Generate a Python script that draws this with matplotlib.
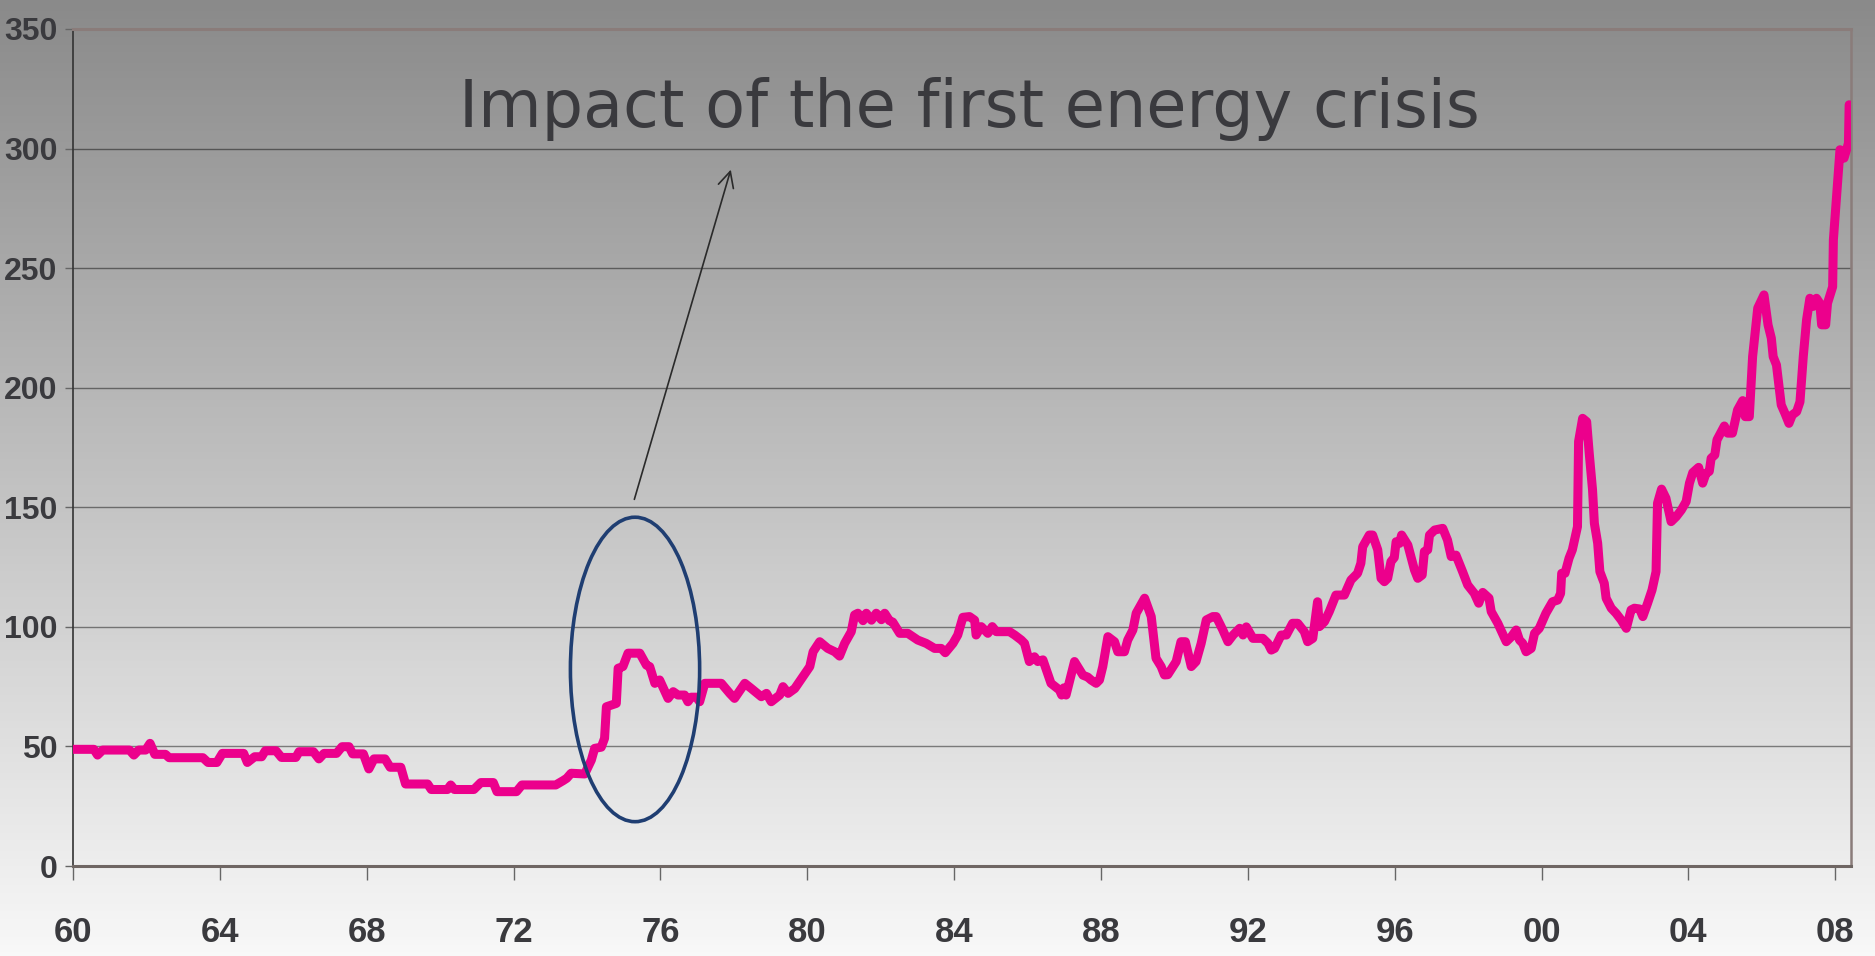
import matplotlib
matplotlib.use('Agg')
import matplotlib.pyplot as plt
from matplotlib.patches import Ellipse
import numpy as np

# monthly-ish readings of the index
years = [1960.00, 1960.57, 1960.67, 1960.81, 1961.54, 1961.66, 1961.79, 1961.98, 1962.10, 1962.23,
         1962.52, 1962.62, 1963.54, 1963.68, 1963.92, 1964.07, 1964.65, 1964.75, 1964.95, 1965.14,
         1965.24, 1965.53, 1965.68, 1966.07, 1966.16, 1966.55, 1966.70, 1966.84, 1967.18, 1967.33,
         1967.52, 1967.62, 1967.91, 1968.06, 1968.20, 1968.50, 1968.64, 1968.93, 1969.06, 1969.66,
         1969.76, 1970.20, 1970.29, 1970.39, 1970.92, 1971.11, 1971.45, 1971.55, 1972.08, 1972.23,
         1973.15, 1973.35, 1973.45, 1973.57, 1973.94, 1974.12, 1974.21, 1974.39, 1974.48, 1974.53,
         1974.80, 1974.85, 1974.98, 1975.12, 1975.44, 1975.62, 1975.71, 1975.85, 1975.98, 1976.21,
         1976.35, 1976.48, 1976.66, 1976.75, 1976.84, 1976.98, 1977.07, 1977.21, 1977.66, 1977.89,
         1978.02, 1978.30, 1978.48, 1978.75, 1978.89, 1979.02, 1979.25, 1979.34, 1979.48, 1979.66,
         1979.79, 1980.07, 1980.16, 1980.34, 1980.56, 1980.75, 1980.88, 1981.02, 1981.20, 1981.29,
         1981.38, 1981.52, 1981.61, 1981.75, 1981.88, 1982.02, 1982.11, 1982.24, 1982.33, 1982.52,
         1982.74, 1983.01, 1983.24, 1983.47, 1983.65, 1983.76, 1983.97, 1984.10, 1984.24, 1984.42,
         1984.56, 1984.60, 1984.74, 1984.92, 1985.04, 1985.15, 1985.51, 1985.65, 1985.83, 1985.92,
         1986.05, 1986.19, 1986.28, 1986.42, 1986.64, 1986.87, 1986.93, 1986.99, 1987.05, 1987.28,
         1987.51, 1987.64, 1987.73, 1987.87, 1987.96, 1988.05, 1988.19, 1988.37, 1988.46, 1988.64,
         1988.73, 1988.87, 1988.96, 1989.19, 1989.37, 1989.50, 1989.64, 1989.73, 1989.82, 1990.05,
         1990.18, 1990.30, 1990.46, 1990.59, 1990.73, 1990.87, 1991.05, 1991.14, 1991.32, 1991.46,
         1991.60, 1991.78, 1991.87, 1991.96, 1992.14, 1992.41, 1992.55, 1992.64, 1992.73, 1992.91,
         1993.05, 1993.22, 1993.36, 1993.54, 1993.63, 1993.77, 1993.90, 1993.95, 1994.09, 1994.22,
         1994.40, 1994.63, 1994.81, 1994.99, 1995.08, 1995.13, 1995.31, 1995.40, 1995.54, 1995.63,
         1995.72, 1995.81, 1995.90, 1995.99, 1996.04, 1996.13, 1996.19, 1996.36, 1996.54, 1996.63,
         1996.75, 1996.81, 1996.90, 1996.95, 1997.09, 1997.31, 1997.44, 1997.54, 1997.67, 1997.85,
         1997.99, 1998.17, 1998.29, 1998.40, 1998.57, 1998.63, 1998.81, 1999.04, 1999.18, 1999.31,
         1999.40, 1999.49, 1999.58, 1999.72, 1999.81, 1999.94, 2000.12, 2000.30, 2000.44, 2000.52,
         2000.55, 2000.64, 2000.75, 2000.84, 2000.98, 2001.01, 2001.12, 2001.23, 2001.30, 2001.39,
         2001.44, 2001.53, 2001.59, 2001.71, 2001.76, 2001.90, 2002.03, 2002.17, 2002.31, 2002.44,
         2002.53, 2002.67, 2002.76, 2002.89, 2003.01, 2003.12, 2003.16, 2003.27, 2003.39, 2003.53,
         2003.67, 2003.81, 2003.94, 2004.03, 2004.12, 2004.28, 2004.39, 2004.48, 2004.57, 2004.62,
         2004.72, 2004.78, 2004.98, 2005.07, 2005.20, 2005.34, 2005.48, 2005.55, 2005.66, 2005.75,
         2005.89, 2006.06, 2006.17, 2006.26, 2006.31, 2006.40, 2006.53, 2006.63, 2006.74, 2006.83,
         2006.95, 2007.04, 2007.13, 2007.22, 2007.31, 2007.40, 2007.49, 2007.58, 2007.63, 2007.74,
         2007.79, 2007.93, 2007.95, 2008.13, 2008.24, 2008.36, 2008.38]
values = [48.8, 48.8, 46.4, 48.5, 48.5, 46.4, 48.5, 48.5, 51.3, 46.7,
          46.7, 45.3, 45.3, 43.3, 43.3, 47.1, 47.1, 43.3, 45.7, 45.7,
          48.2, 48.2, 45.4, 45.4, 47.8, 47.8, 44.8, 47.1, 47.1, 49.9,
          49.9, 46.9, 46.9, 40.6, 44.8, 44.8, 41.3, 41.3, 34.3, 34.3,
          32.0, 32.0, 33.9, 32.0, 32.0, 34.9, 34.9, 31.1, 31.1, 33.9,
          33.9, 35.7, 36.7, 38.8, 38.5, 44.3, 49.2, 49.7, 53.4, 66.6,
          68.0, 82.7, 83.4, 89.0, 89.0, 84.0, 83.4, 76.4, 77.8, 70.1,
          72.9, 71.5, 71.5, 68.7, 70.6, 70.6, 68.7, 76.4, 76.4, 72.2,
          70.1, 76.4, 74.2, 70.8, 72.2, 68.7, 71.5, 75.0, 72.2, 74.2,
          77.1, 83.4, 89.6, 93.8, 91.0, 89.6, 87.8, 93.1, 98.0, 105.0,
          105.7, 102.6, 105.7, 102.8, 105.7, 103.0, 105.7, 102.6, 102.0, 97.3,
          97.3, 94.5, 93.1, 91.0, 91.0, 89.2, 93.1, 96.6, 104.0, 104.3,
          102.8, 96.6, 100.1, 97.3, 100.1, 98.0, 98.0, 96.6, 94.5, 93.1,
          85.5, 87.5, 85.5, 86.2, 76.4, 73.6, 71.5, 74.5, 71.5, 85.5,
          79.8, 79.0, 77.8, 76.4, 77.8, 83.4, 95.9, 93.8, 89.6, 89.6,
          94.5, 98.7, 105.7, 112.0, 104.3, 86.9, 83.4, 79.9, 80.0, 85.5,
          93.8, 93.8, 83.4, 85.5, 93.1, 102.9, 104.3, 104.3, 98.7, 93.8,
          96.6, 99.4, 96.6, 100.0, 95.2, 95.2, 93.1, 90.3, 91.0, 96.6,
          96.6, 101.5, 101.5, 98.0, 93.8, 95.2, 110.5, 100.1, 102.2, 106.4,
          113.3, 113.3, 119.6, 122.4, 126.6, 133.5, 138.4, 138.4, 132.2, 120.3,
          118.9, 120.3, 127.3, 129.0, 135.6, 134.9, 138.4, 134.2, 123.8, 120.3,
          121.7, 131.5, 132.2, 138.4, 140.5, 141.2, 136.3, 129.4, 130.0, 123.1,
          117.5, 114.0, 109.9, 114.4, 112.0, 106.4, 101.5, 93.8, 95.9, 98.7,
          94.5, 93.1, 89.6, 91.0, 97.3, 99.4, 105.7, 110.5, 111.2, 114.0,
          122.4, 122.4, 128.7, 132.2, 141.9, 177.5, 187.2, 185.8, 172.6, 157.3,
          143.3, 135.0, 123.1, 118.2, 112.0, 107.8, 105.7, 102.9, 99.4, 107.1,
          107.8, 107.5, 104.3, 109.9, 115.4, 123.1, 151.7, 157.6, 153.8, 144.0,
          146.1, 148.9, 152.4, 160.1, 164.5, 166.7, 160.1, 164.2, 165.0, 170.5,
          171.9, 178.2, 184.0, 181.0, 181.0, 190.7, 194.6, 187.9, 187.9, 213.0,
          233.3, 238.8, 226.3, 220.7, 213.0, 209.5, 192.8, 189.3, 185.1, 188.6,
          190.0, 194.1, 213.0, 228.4, 237.4, 234.0, 237.4, 235.3, 226.3, 226.3,
          235.3, 242.2, 261.8, 299.5, 296.0, 302.2, 318.3]

tick_years = [1960, 1964, 1968, 1972, 1976, 1980, 1984, 1988, 1992, 1996, 2000, 2004, 2008]
tick_labels = ["60", "64", "68", "72", "76", "80", "84", "88", "92", "96", "00", "04", "08"]
y_ticks = [0, 50, 100, 150, 200, 250, 300, 350]

title = "Impact of the first energy crisis"
# circled period and arrow (data units)
crisis_center = (1975.31, 82.2)
crisis_size = (3.52, 127.3)
arrow_tail = (1975.27, 152.2)
arrow_head = (1977.94, 292.3)

TICK_FONT = ['Liberation Sans', 'DejaVu Sans']
TXT_COLOR = '#3a3a3e'


def draw_background(fig):
    bg = fig.add_axes([0, 0, 1, 1], zorder=-10)
    grad = np.linspace(138, 248, 256).reshape(-1, 1) / 255.0
    img = np.dstack([grad, grad, grad])
    bg.imshow(img, aspect='auto', extent=[0, 1, 0, 1], origin='upper')
    bg.set_axis_off()


def main():
    fig = plt.figure(figsize=(18.75, 9.56), dpi=100)
    draw_background(fig)
    ax = fig.add_axes([0.0389, 0.0941, 0.9483, 0.8756])
    ax.set_facecolor('none')

    for v in y_ticks[1:-1]:
        ax.axhline(v, color='black', alpha=0.45, lw=1.0, zorder=1)

    ax.plot(years, values, color='#ec008c', lw=6.5, solid_joinstyle='round',
            solid_capstyle='round', zorder=3)

    ell = Ellipse(crisis_center, crisis_size[0], crisis_size[1], facecolor='none',
                  edgecolor='#1f3e72', lw=2.6, zorder=4)
    ax.add_patch(ell)
    ax.annotate('', xy=arrow_head, xytext=arrow_tail,
                arrowprops=dict(arrowstyle='->', color='#2a2a2a', lw=1.2, mutation_scale=28),
                zorder=5)

    ax.set_xlim(1960, 2008.43)
    ax.set_ylim(0, 350)
    ax.set_xticks(tick_years)
    ax.set_xticklabels(tick_labels)
    ax.set_yticks(y_ticks)
    ax.set_yticklabels([str(v) for v in y_ticks])
    for lab in ax.get_xticklabels():
        lab.set_family(TICK_FONT)
        lab.set_fontweight('bold')
        lab.set_fontsize(25)
        lab.set_color(TXT_COLOR)
    for lab in ax.get_yticklabels():
        lab.set_family(TICK_FONT)
        lab.set_fontweight('bold')
        lab.set_fontsize(23)
        lab.set_color(TXT_COLOR)
    ax.tick_params(axis='x', length=10, width=1.0, color='#666666', pad=26, direction='out')
    ax.tick_params(axis='y', length=6, width=1.0, color='#666666', pad=5, direction='out')

    ax.spines['left'].set_color('#333333')
    ax.spines['left'].set_linewidth(1.2)
    ax.spines['bottom'].set_color('#6f6663')
    ax.spines['bottom'].set_linewidth(2.2)
    ax.spines['top'].set_color('#8a7c7a')
    ax.spines['top'].set_linewidth(2.2)
    ax.spines['right'].set_color('#8a7c7a')
    ax.spines['right'].set_linewidth(1.8)

    fig.text(0.517, 0.8675, title, ha='center', va='baseline', fontsize=47,
             family='DejaVu Sans', color=TXT_COLOR)

    fig.savefig("out.png", dpi=100)


if __name__ == '__main__':
    main()
